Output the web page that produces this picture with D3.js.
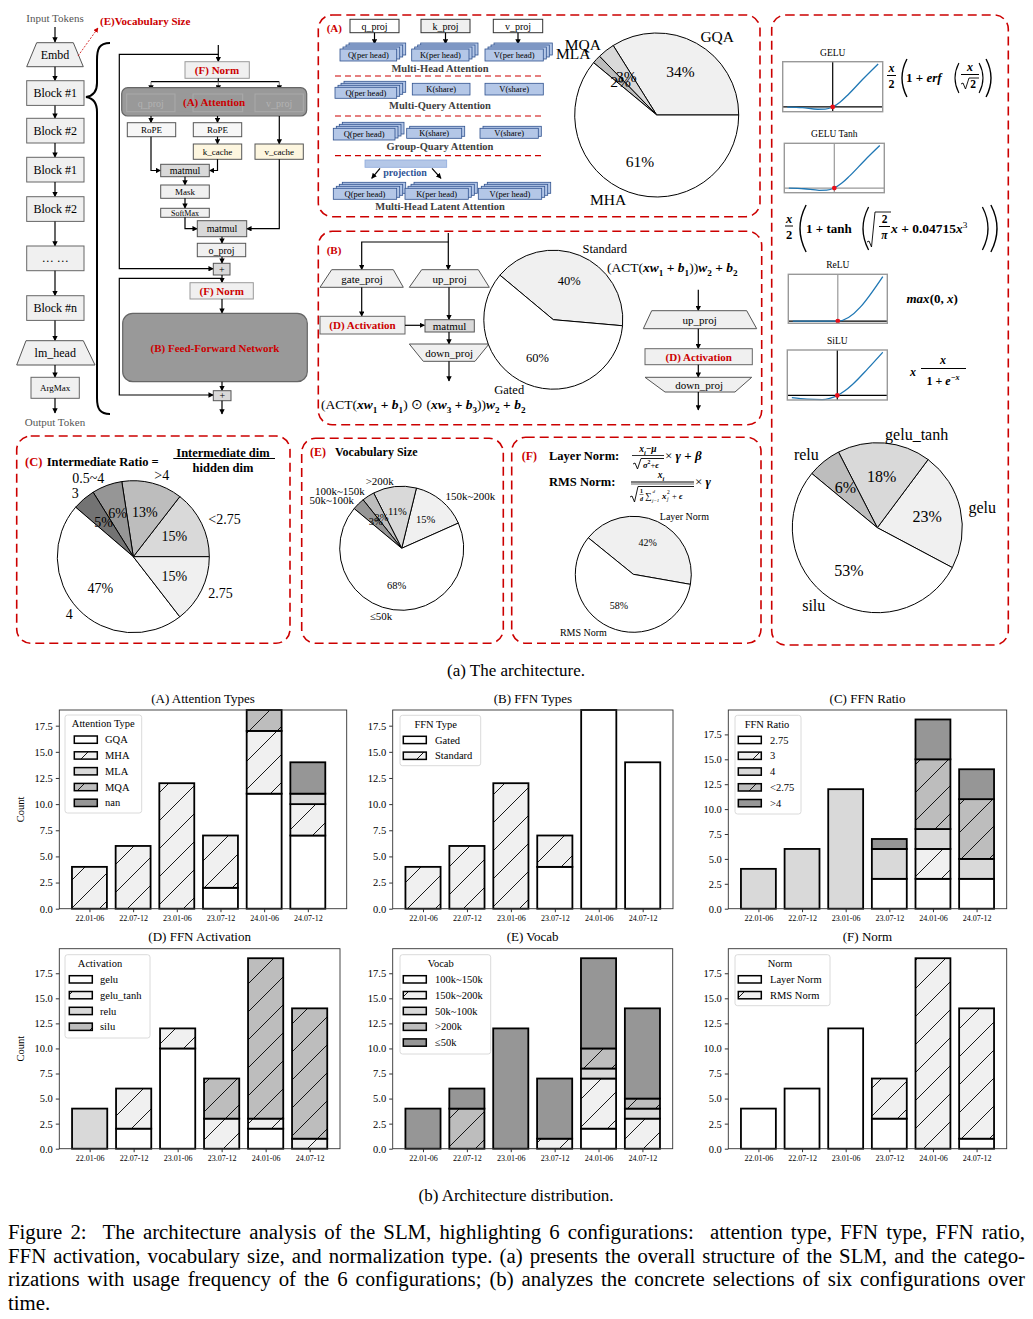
<!DOCTYPE html>
<html>
<head>
<meta charset="utf-8">
<script src="https://cdn.jsdelivr.net/npm/d3@7"></script>
<style>
  body { margin: 0; background: #fff; }
  svg { display: block; }
  text { font-family: "Liberation Serif", "Times New Roman", serif; white-space: pre; }
</style>
</head>
<body>
<svg id="fig" width="1033" height="1319"></svg>
<script>
// ---------- data ----------
const periods = ["22.01-06", "22.07-12", "23.01-06", "23.07-12", "24.01-06", "24.07-12"];
const yTicks = [0, 2.5, 5, 7.5, 10, 12.5, 15, 17.5];

const attnKeys = ["GQA", "MHA", "MLA", "MQA", "nan"];
const attnGQA = [0, 0, 0, 2, 11, 7];
const attnMHA = [4, 6, 12, 5, 6, 3];
const attnMLA = [0, 0, 0, 0, 0, 1];
const attnMQA = [0, 0, 0, 0, 2, 0];
const attnNan = [0, 0, 0, 0, 0, 3];

const ffnKeys = ["Gated", "Standard"];
const ffnGated = [0, 0, 0, 4, 19, 14];
const ffnStandard = [4, 6, 12, 3, 0, 0];

const ratioKeys = ["2.75", "3", "4", "<2.75", ">4"];
const ratio275 = [0, 0, 0, 3, 3, 3];
const ratio3 = [0, 0, 0, 0, 3, 0];
const ratio4 = [4, 6, 12, 3, 2, 2];
const ratioLt275 = [0, 0, 0, 0, 7, 6];
const ratioGt4 = [0, 0, 0, 1, 4, 3];

const actKeys = ["gelu", "gelu_tanh", "relu", "silu"];
const actGelu = [0, 2, 10, 0, 2, 0];
const actGeluTanh = [0, 4, 2, 3, 1, 1];
const actRelu = [4, 0, 0, 0, 0, 0];
const actSilu = [0, 0, 0, 4, 16, 13];

const vocabKeys = ["100k~150k", "150k~200k", "50k~100k", ">200k", "≤50k"];
const vocab100 = [0, 0, 0, 0, 2, 0];
const vocab150 = [0, 0, 0, 1, 5, 3];
const vocab50 = [0, 0, 0, 0, 1, 1];
const vocab200 = [0, 4, 0, 0, 2, 1];
const vocabLe50 = [4, 2, 12, 6, 9, 9];

const normKeys = ["Layer Norm", "RMS Norm"];
const normLayer = [4, 6, 12, 3, 0, 1];
const normRMS = [0, 0, 0, 4, 19, 13];

// pie charts
const pieAttnLabels = ["GQA", "MQA", "MLA", "MHA"];
const pieAttnValues = [20, 2, 1, 36];
const pieFfnLabels = ["Standard", "Gated"];
const pieFfnValues = [25, 37];
const pieRatioLabels = ["<2.75", ">4", "0.5~4", "3", "4", "2.75"];
const pieRatioValues = [9, 8, 4, 3, 29, 9];
const pieVocabLabels = ["150k~200k", ">200k", "100k~150k", "50k~100k", "≤50k"];
const pieVocabValues = [9, 7, 2, 2, 42];
const pieNormLabels = ["Layer Norm", "RMS Norm"];
const pieNormValues = [26, 36];
const pieActLabels = ["gelu", "gelu_tanh", "relu", "silu"];
const pieActValues = [14, 11, 4, 33];

// activation curves, points
const geluPts = [[-3, -0.01], [-2, -0.05], [-1, -0.16], [-0.5, -0.15], [0, 0], [0.5, 0.35], [1, 0.84], [2, 1.95], [3, 3.0]];
const geluTanhPts = [[-3, -0.01], [-2, -0.05], [-1, -0.16], [-0.5, -0.15], [0, 0], [0.5, 0.35], [1, 0.84], [2, 1.95], [3, 3.0]];
const reluPts = [[-3, 0], [0, 0], [3, 3]];
const siluPts = [[-3, -0.14], [-2, -0.24], [-1, -0.27], [-0.5, -0.19], [0, 0], [0.5, 0.31], [1, 0.73], [2, 1.76], [3, 2.86]];

// ---------- helpers ----------
const svg = d3.select("#fig");
const RED = "#cc0000";
const defs = svg.append("defs");
defs.append("marker").attr("id", "arr")
    .attr("viewBox", "0 0 10 10").attr("refX", 9).attr("refY", 5)
    .attr("markerWidth", 4.5).attr("markerHeight", 4.5).attr("orient", "auto")
    .append("path").attr("d", "M0,0L10,5L0,10z").attr("fill", "#000");
defs.append("marker").attr("id", "arrRed")
    .attr("viewBox", "0 0 10 10").attr("refX", 9).attr("refY", 5)
    .attr("markerWidth", 6).attr("markerHeight", 6).attr("orient", "auto")
    .append("path").attr("d", "M0,0L10,5L0,10z").attr("fill", RED);

function hatch(id, bg) {
    const s = 28;
    const p = defs.append("pattern").attr("id", id)
        .attr("patternUnits", "userSpaceOnUse").attr("width", s).attr("height", s);
    p.append("rect").attr("width", s).attr("height", s).attr("fill", bg);
    p.append("path")
        .attr("d", `M0,${s}L${s},0M-2,2L2,-2M${s - 2},${s + 2}L${s + 2},${s - 2}`)
        .attr("stroke", "#000").attr("stroke-width", 0.9);
}
hatch("h1", "#f0f0f0");
hatch("h3", "#bdbdbd");
const barFills = ["#ffffff", "url(#h1)", "#d9d9d9", "url(#h3)", "#969696"];

function rect(x1, y1, x2, y2, o = {}) {
    return svg.append("rect").attr("x", x1).attr("y", y1)
        .attr("width", x2 - x1).attr("height", y2 - y1)
        .attr("fill", o.fill || "#f0f0f0").attr("stroke", o.stroke || "#555")
        .attr("stroke-width", o.sw || 1).attr("rx", o.rx || 0);
}
function txt(x, y, s, o = {}) {
    return svg.append("text").attr("x", x).attr("y", y)
        .attr("text-anchor", o.anchor || "middle").attr("dominant-baseline", "central")
        .attr("font-size", o.fs || 11).attr("font-weight", o.bold ? "bold" : null)
        .attr("font-style", o.italic ? "italic" : null)
        .attr("font-family", o.sans ? "DejaVu Sans, sans-serif" : null)
        .attr("fill", o.fill || "#000").text(s);
}
function line(pts, o = {}) {
    return svg.append("path").attr("d", "M" + pts.map(p => p.join(",")).join("L"))
        .attr("fill", "none").attr("stroke", o.stroke || "#000").attr("stroke-width", o.sw || 1.2)
        .attr("stroke-dasharray", o.dash || null)
        .attr("marker-end", o.arrow === false ? null : (o.marker || "url(#arr)"));
}
function trap(xt1, xt2, yt, xb1, xb2, yb, label, o = {}) {
    svg.append("path").attr("d", `M${xt1},${yt}L${xt2},${yt}L${xb2},${yb}L${xb1},${yb}Z`)
        .attr("fill", "#f0f0f0").attr("stroke", "#555").attr("stroke-width", 1);
    txt((xt1 + xt2 + xb1 + xb2) / 4, (yt + yb) / 2, label, o);
}
function dashBox(x1, y1, x2, y2) {
    rect(x1, y1, x2, y2, { fill: "none", stroke: RED, sw: 1.6, rx: 14 }).attr("stroke-dasharray", "9,5");
}
function rich(x, y, parts, fs, anchor) {
    const t = svg.append("text").attr("x", x).attr("y", y).attr("font-size", fs)
        .attr("text-anchor", anchor || "start");
    let cur = 0;
    parts.forEach(([s, st]) => {
        const tok = (st || "").split(" ");
        const sp = t.append("tspan").text(s);
        let off = 0;
        if (tok.includes("sub")) off = fs * 0.28;
        if (tok.includes("sup")) off = -fs * 0.4;
        if (off !== cur) { sp.attr("dy", off - cur); cur = off; }
        if (tok.includes("sub") || tok.includes("sup")) sp.attr("font-size", fs * 0.68);
        if (tok.includes("b")) sp.attr("font-weight", "bold");
        if (tok.includes("i")) sp.attr("font-style", "italic");
    });
    return t;
}
function paren(x, y1, y2, left, sw) {
    const ym = (y1 + y2) / 2, d = Math.max(2.5, (y2 - y1) * 0.13);
    const p = left ? `M${x + d},${y1}Q${x - d},${ym} ${x + d},${y2}`
                   : `M${x - d},${y1}Q${x + d},${ym} ${x - d},${y2}`;
    svg.append("path").attr("d", p).attr("fill", "none").attr("stroke", "#000").attr("stroke-width", sw || 1.4);
}
function hline(x1, x2, y, sw) {
    svg.append("line").attr("x1", x1).attr("x2", x2).attr("y1", y).attr("y2", y)
        .attr("stroke", "#000").attr("stroke-width", sw || 1);
}
function radical(x1, yb, yTop, x2) {
    svg.append("path").attr("d", `M${x1},${yb - 5}L${x1 + 2},${yb - 6}L${x1 + 4.5},${yb}L${x1 + 8},${yTop}L${x2},${yTop}`)
        .attr("fill", "none").attr("stroke", "#000").attr("stroke-width", 0.9);
}

// ---------- left: model architecture ----------
txt(55, 18, "Input Tokens", { fs: 11, fill: "#555" });
line([[55, 27], [55, 42]]);
trap(36.7, 73.3, 42.7, 26.7, 83.3, 66.7, "Embd", { fs: 12 });
txt(100, 21, "(E)Vocabulary Size", { fs: 11, bold: true, fill: RED, anchor: "start" });
line([[78, 56], [98, 28]], { stroke: RED, sw: 0.8, dash: "2,1.5", marker: "url(#arrRed)" });

const blocks = [["Block #1", 80.7], ["Block #2", 118.3], ["Block #1", 157.3], ["Block #2", 196.7], ["… …", 246], ["Block #n", 295.7]];
line([[55, 66.7], [55, 80.7]]);
blocks.forEach(([s, y0], i) => {
    rect(26.7, y0, 84, y0 + 24.7, { stroke: "#666" });
    txt(55.3, y0 + 12.4, s, { fs: 12 });
    const next = i < blocks.length - 1 ? blocks[i + 1][1] : 340.7;
    line([[55, y0 + 24.7], [55, next]]);
});
trap(26, 83.3, 340.7, 16.7, 95, 365, "lm_head", { fs: 12 });
line([[55, 365], [55, 377.3]]);
rect(31, 377.3, 79.3, 398.3, { stroke: "#666" });
txt(55.2, 388, "ArgMax", { fs: 9 });
line([[55, 398.3], [55, 413]]);
txt(55, 422, "Output Token", { fs: 11, fill: "#555" });

svg.append("path")
    .attr("d", "M110,43C99,43 97,49 97,60L97,83C97,92 93,96 86,97C93,98 97,103 97,112L97,398C97,409 100,414 110,414")
    .attr("fill", "none").attr("stroke", "#000").attr("stroke-width", 2);

// decoder block detail
line([[218.3, 45], [218.3, 61.7]]);
line([[218.3, 54.3], [119.3, 54.3], [119.3, 268.7], [213.3, 268.7]]);
rect(185, 61.7, 249.3, 78.3, { stroke: "#999" });
txt(217, 70.3, "(F) Norm", { fs: 11, bold: true, fill: RED });
line([[218.3, 78.3], [218.3, 81.7]], { arrow: false });
line([[151, 81.7], [279.3, 81.7]], { arrow: false });
[151, 218.3, 279.3].forEach(x => line([[x, 81.7], [x, 90]], { stroke: "#888" }));
rect(121.7, 87.7, 306.7, 116, { fill: "#999", stroke: "#666", rx: 6, sw: 1.2 });
[[126.7, 175, "q_proj"], [193, 242.7, ""], [255, 303.3, "v_proj"]].forEach(([a, b, s]) => {
    rect(a, 94, b, 111.7, { fill: "none", stroke: "#aaa" });
    if (s) txt((a + b) / 2, 103, s, { fs: 10, fill: "#b3b3b3" });
});
txt(214, 102, "(A) Attention", { fs: 11, bold: true, fill: RED });

line([[151, 116], [151, 122.7]]);
line([[217.5, 116], [217.5, 122.7]]);
line([[279.3, 116], [279.3, 144]]);
rect(127.3, 122.7, 175.7, 136.7, { fill: "#f7f7f7" });
txt(151.5, 130, "RoPE", { fs: 9 });
rect(193.3, 122.7, 241.7, 136.7, { fill: "#f7f7f7" });
txt(217.5, 130, "RoPE", { fs: 9 });
line([[217.5, 136.7], [217.5, 144]]);
rect(193.3, 144, 241.7, 159.3, { fill: "#fdf6df" });
txt(217.5, 151.8, "k_cache", { fs: 9 });
rect(255, 144, 303.3, 159.3, { fill: "#fdf6df" });
txt(279.2, 151.8, "v_cache", { fs: 9 });
line([[151, 136.7], [151, 170.5], [160.7, 170.5]]);
line([[217.5, 159.3], [217.5, 170.5], [209.3, 170.5]]);
rect(160.7, 164.3, 209.3, 176.7, { fill: "#d9d9d9" });
txt(185, 170.7, "matmul", { fs: 10 });
line([[185, 176.7], [185, 185]]);
rect(160.7, 185, 209.3, 198.3);
txt(185, 191.8, "Mask", { fs: 9 });
line([[185, 198.3], [185, 208.3]]);
rect(160.7, 208.3, 209.3, 217.3);
txt(185, 213, "SoftMax", { fs: 8 });
line([[185, 217.3], [185, 228.7], [197.3, 228.7]]);
line([[279.3, 159.3], [279.3, 228.7], [246.7, 228.7]]);
rect(197.3, 220.7, 246.7, 236.7, { fill: "#d9d9d9" });
txt(222, 228.8, "matmul", { fs: 10 });
line([[222, 236.7], [222, 243.3]]);
rect(197.3, 243.3, 245.7, 256.7);
txt(221.5, 250, "o_proj", { fs: 10 });
line([[222, 256.7], [222, 263.3]]);
rect(213.3, 263.3, 230, 275, { fill: "#d9d9d9" });
txt(221.7, 269.3, "+", { fs: 10 });
line([[222, 275], [222, 282.7]]);
line([[222, 278.3], [119.3, 278.3], [119.3, 395], [213.3, 395]]);
rect(190, 282.7, 253.3, 299, { stroke: "#999" });
txt(221.7, 291, "(F) Norm", { fs: 11, bold: true, fill: RED });
line([[222, 299], [222, 313.3]]);
rect(122.7, 313.3, 307.3, 381.7, { fill: "#999", stroke: "#666", rx: 10, sw: 1.2 });
txt(215, 348, "(B) Feed-Forward Network", { fs: 11, bold: true, fill: RED });
line([[222, 381.7], [222, 390.7]]);
rect(213.3, 390.7, 231, 400.7, { fill: "#d9d9d9" });
txt(222.2, 395.8, "+", { fs: 10 });
line([[222, 400.7], [222, 414]]);

// ---------- (A) attention types ----------
dashBox(318.3, 15, 760, 216.7);
txt(326.7, 28.3, "(A)", { fs: 11, bold: true, fill: RED, anchor: "start" });
function stack(x1, x2, yTop, yBot, n, label) {
    for (let k = n - 1; k >= 0; k--) {
        rect(x1 + k * 3, yTop - k * 2, x2 + k * 3, yBot - k * 2, { fill: "#b4c7e7", stroke: "#2f528f", sw: 0.8 });
    }
    txt((x1 + x2) / 2, (yTop + yBot) / 2, label, { fs: 8.5 });
}
const ATT_TITLE = { fs: 10.5, bold: true, fill: "#404040" };
[[350, 399, "q_proj", "#fff"], [421, 470, "k_proj", "#f0f0f0"], [493.3, 542.7, "v_proj", "#fff"]].forEach(([a, b, s, f]) => {
    rect(a, 19.3, b, 32.7, { fill: f, stroke: "#333" });
    txt((a + b) / 2, 26, s, { fs: 10 });
    line([[(a + b) / 2, 32.7], [(a + b) / 2, 44]]);
});
stack(340, 396.7, 49, 61, 4, "Q(per head)");
stack(411.7, 469, 49, 61, 4, "K(per head)");
stack(485, 543.3, 49, 61, 4, "V(per head)");
txt(440, 68.3, "Multi-Head Attention", ATT_TITLE);
line([[335, 76], [545, 76]], { stroke: RED, dash: "6,4", arrow: false });
stack(335, 396.7, 87.3, 98.3, 4, "Q(per head)");
stack(412.3, 470, 83.3, 95, 1, "K(share)");
stack(485, 543.3, 83.3, 95, 1, "V(share)");
txt(440, 105, "Multi-Query Attention", ATT_TITLE);
line([[335, 116], [545, 116]], { stroke: RED, dash: "6,4", arrow: false });
stack(333.3, 395, 128.3, 140, 4, "Q(per head)");
stack(406.7, 461.7, 128.3, 138.3, 2, "K(share)");
stack(480, 538.3, 128.3, 138.3, 2, "V(share)");
txt(440, 146, "Group-Quary Attention", ATT_TITLE);
line([[335, 155.7], [545, 155.7]], { stroke: RED, dash: "6,4", arrow: false });
rect(365, 160, 446.7, 167.3, { fill: "#b4c7e7", stroke: "#8faadc", sw: 0.8 });
txt(405, 172.3, "projection", { fs: 10, bold: true, fill: "#2f5597" });
line([[380, 168.3], [371.7, 178.3]]);
line([[432, 168.3], [441, 178.3]]);
stack(333.3, 396.7, 188.3, 199.3, 4, "Q(per head)");
stack(405, 468.3, 188.3, 199.3, 4, "K(per head)");
stack(478.3, 541.7, 188.3, 199.3, 4, "V(per head)");
txt(440, 206.7, "Multi-Head Latent Attention", ATT_TITLE);

// ---------- (B) FFN types ----------
dashBox(318.3, 231.3, 761.7, 424.7);
txt(326.7, 249.7, "(B)", { fs: 11, bold: true, fill: RED, anchor: "start" });
line([[448.3, 233], [448.3, 269.7]]);
line([[448.3, 242], [361.7, 242], [361.7, 269.7]]);
trap(331.7, 393.3, 269.7, 320, 403.3, 287.3, "gate_proj", { fs: 11 });
trap(421.7, 478.3, 269.7, 409.3, 489.3, 287.3, "up_proj", { fs: 11 });
line([[361.7, 287.3], [361.7, 316.3]]);
rect(320, 316.3, 405, 334, { stroke: "#666" });
txt(362.5, 325.3, "(D) Activation", { fs: 11, bold: true, fill: RED });
line([[405, 325.3], [424.5, 325.3]]);
line([[449, 287.3], [449, 319.7]]);
rect(425, 319.7, 474.3, 332, { fill: "#d9d9d9" });
txt(449.6, 326, "matmul", { fs: 11 });
line([[449, 332], [449, 344]]);
trap(409.3, 489, 344, 423.3, 475, 361.3, "down_proj", { fs: 11 });
line([[449, 361.3], [449, 381]]);
const gatedParts = [["(ACT(", ""], ["xw", "b i"], ["1", "b sub"], [" + ", "b"], ["b", "b i"], ["1", "b sub"], [") ⊙ (", ""],
    ["xw", "b i"], ["3", "b sub"], [" + ", "b"], ["b", "b i"], ["3", "b sub"], ["))", ""], ["w", "b i"], ["2", "b sub"],
    [" + ", "b"], ["b", "b i"], ["2", "b sub"]];
rich(321, 409, gatedParts, 13.5);
const stdParts = [["(ACT(", ""], ["xw", "b i"], ["1", "b sub"], [" + ", "b"], ["b", "b i"], ["1", "b sub"], ["))", ""],
    ["w", "b i"], ["2", "b sub"], [" + ", "b"], ["b", "b i"], ["2", "b sub"]];
rich(607, 272, stdParts, 13.5);
line([[698.3, 289.7], [698.3, 310.7]]);
trap(651.7, 746.7, 310.7, 643.3, 756.7, 328.7, "up_proj", { fs: 11 });
line([[698.3, 328.7], [698.3, 348.7]]);
rect(645, 348.7, 752.3, 364.7, { stroke: "#666" });
txt(698.7, 356.7, "(D) Activation", { fs: 11, bold: true, fill: RED });
line([[698.3, 364.7], [698.3, 377.3]]);
trap(645, 751.7, 377.3, 665, 735, 392, "down_proj", { fs: 11 });
line([[698.3, 392], [698.3, 410]]);

// ---------- activation functions panel ----------
dashBox(771.7, 15, 1008.3, 645);
function miniPlot(c) {
    const x = d3.scaleLinear().domain([-3.3, 3.3]).range([c.x0, c.x1]);
    const y = d3.scaleLinear().domain(c.yd).range([c.y1, c.y0]);
    svg.append("line").attr("x1", x(0)).attr("x2", x(0)).attr("y1", c.y0).attr("y2", c.y1)
        .attr("stroke", c.vc).attr("stroke-width", 1.2);
    svg.append("line").attr("x1", c.x0).attr("x2", c.x1).attr("y1", y(0)).attr("y2", y(0))
        .attr("stroke", c.hc).attr("stroke-width", 1.2);
    svg.append("path").attr("d", d3.line().x(d => x(d[0])).y(d => y(d[1])).curve(d3.curveMonotoneX)(c.pts))
        .attr("fill", "none").attr("stroke", "#1f77b4").attr("stroke-width", 1.3);
    svg.append("circle").attr("cx", x(0)).attr("cy", y(0)).attr("r", 2.4).attr("fill", "#e8101a");
    svg.append("rect").attr("x", c.x0).attr("y", c.y0).attr("width", c.x1 - c.x0).attr("height", c.y1 - c.y0)
        .attr("fill", "none").attr("stroke", "#999").attr("stroke-width", 1.4);
    txt((c.x0 + c.x1) / 2, c.y0 - 9, c.name, { fs: 9.5, sans: true });
}
miniPlot({ name: "GELU", pts: geluPts, x0: 782.7, x1: 882.7, y0: 61.7, y1: 111.7, yd: [-0.33, 3.16], vc: "#000", hc: "#000" });
miniPlot({ name: "GELU Tanh", pts: geluTanhPts, x0: 784.3, x1: 884.3, y0: 143.3, y1: 192.7, yd: [-0.33, 3.16], vc: "#999", hc: "#999" });
miniPlot({ name: "ReLU", pts: reluPts, x0: 788.3, x1: 887.3, y0: 274.3, y1: 323.3, yd: [-0.15, 3.15], vc: "#999", hc: "#000" });
miniPlot({ name: "SiLU", pts: siluPts, x0: 787.3, x1: 887.3, y0: 350, y1: 400, yd: [-0.3, 3.01], vc: "#000", hc: "#000" });

// GELU formula
rich(891.5, 71.5, [["x", "b i"]], 12, "middle");
hline(887, 896, 75.5, 1);
rich(891.5, 88, [["2", "b"]], 12, "middle");
paren(902, 59, 97, true, 1.4);
rich(906, 82, [["1 + ", "b"], ["erf", "b i"]], 13);
paren(955, 63, 93, true, 1.1);
rich(970, 71, [["x", "b i"]], 12, "middle");
hline(961, 979, 74.5, 1);
radical(961, 89, 78, 979);
rich(973, 88, [["2", "b"]], 11.5, "middle");
paren(983, 63, 93, false, 1.1);
paren(991, 59, 97, false, 1.4);

// GELU Tanh formula
rich(789, 222.5, [["x", "b i"]], 12.5, "middle");
hline(785, 793, 226, 1);
rich(789, 239, [["2", "b"]], 12.5, "middle");
paren(800, 205, 252, true, 1.4);
rich(806, 233, [["1 + tanh", "b"]], 13);
paren(863, 207, 250, true, 1.3);
radical(867, 247, 212, 891);
rich(884.5, 223, [["2", "b"]], 11.5, "middle");
hline(879, 890, 226.5, 1);
rich(884.5, 239, [["π", "b i"]], 11.5, "middle");
rich(891, 233, [["x", "b i"], [" + 0.04715", "b"], ["x", "b i"], ["3", "sup"]], 13.5);
paren(988, 207, 250, false, 1.3);
paren(997, 205, 252, false, 1.4);

// ReLU formula
rich(906.5, 302.5, [["max", "b i"], ["(0, ", "b"], ["x", "b i"], [")", "b"]], 13);

// SiLU formula
rich(910, 376, [["x", "b i"]], 12);
rich(943, 364, [["x", "b i"]], 12, "middle");
hline(921, 966, 368.5, 1);
rich(943, 384.5, [["1 + ", "b"], ["e", "b i"], ["−x", "b i sup"]], 12, "middle");

// ---------- (C), (E), (F) boxes ----------
dashBox(16.7, 436, 290, 643.3);
txt(25, 461.5, "(C)", { fs: 12.5, bold: true, fill: RED, anchor: "start" });
txt(46.7, 461.5, "Intermediate Ratio =", { fs: 12.5, bold: true, anchor: "start" });
txt(223, 453.3, "Intermediate dim", { fs: 12.5, bold: true });
hline(173.3, 275, 458.5, 1);
txt(223, 467.5, "hidden dim", { fs: 12.5, bold: true });

dashBox(301.7, 438.3, 503.3, 643.3);
txt(310, 452, "(E)", { fs: 12, bold: true, fill: RED, anchor: "start" });
txt(335, 452, "Vocabulary Size", { fs: 12, bold: true, anchor: "start" });

dashBox(511.7, 437.3, 761, 643.3);
rich(521.7, 460, [["(F)", "b"]], 12).attr("fill", RED);
rich(549, 460, [["Layer Norm:", "b"]], 12.5);
rich(648, 452, [["x", "b i"], ["i", "b i sub"], ["−", "b"], ["μ", "b i"]], 9.5, "middle");
hline(632, 664, 455.5, 0.8);
radical(633, 469, 458.5, 664);
rich(651, 467.5, [["σ", "b i"], ["2", "b sup"], ["+", ""], ["ϵ", "b i"]], 8.5, "middle");
rich(665, 460, [["× ", ""], ["γ", "b i"], [" + ", "b"], ["β", "b i"]], 13);
rich(549, 486, [["RMS Norm:", "b"]], 12.5);
rich(661, 478, [["x", "b i"], ["i", "b i sub"]], 9.5, "middle");
hline(631, 694, 482, 1);
hline(631, 694, 484, 0.6);
radical(630, 502, 486.5, 694);
rich(641.5, 493, [["1", "b"]], 6, "middle");
hline(639.5, 643.5, 494.5, 0.5);
rich(641.5, 500.5, [["d", "b i"]], 6, "middle");
rich(645, 499, [["∑", ""]], 9);
rich(652.5, 493, [["d", "i"]], 5, "start");
rich(652, 501.5, [["j=1", "i"]], 5, "start");
rich(662, 498.5, [["x", "b i"]], 9);
rich(667, 501, [["j", "i"]], 5.5);
rich(667, 494, [["2", ""]], 5.5);
rich(672, 498.5, [["+ ", ""], ["ϵ", "b i"]], 8.5);
rich(695, 486, [["× ", ""], ["γ", "b i"]], 13);

// ---------- pies ----------
function drawPie(c) {
    const g = svg.append("g").attr("transform", `translate(${c.cx},${c.cy})`);
    const a0 = Math.PI / 2 - c.start * Math.PI / 180;
    const arcs = d3.pie().sort(null).startAngle(a0).endAngle(a0 - 2 * Math.PI)(c.values);
    const arc = d3.arc().innerRadius(0).outerRadius(c.r);
    const total = d3.sum(c.values);
    g.selectAll("path").data(arcs).join("path")
        .attr("d", arc).attr("fill", (d, i) => c.colors[i])
        .attr("stroke", "#000").attr("stroke-width", 1).attr("stroke-linejoin", "round");
    arcs.forEach((d, i) => {
        const m = (d.startAngle + d.endAngle) / 2;
        const lx = Math.sin(m) * c.r * 1.1, ly = -Math.cos(m) * c.r * 1.1;
        g.append("text").attr("x", lx).attr("y", ly)
            .attr("text-anchor", lx > 0 ? "start" : "end").attr("dominant-baseline", "central")
            .attr("font-size", c.fs).text(c.labels[i]);
        const px = Math.sin(m) * c.r * 0.6, py = -Math.cos(m) * c.r * 0.6;
        g.append("text").attr("x", px).attr("y", py)
            .attr("text-anchor", "middle").attr("dominant-baseline", "central")
            .attr("font-size", c.pfs || c.fs).text(d3.format(".0f")(d.value / total * 100) + "%");
    });
}
drawPie({ cx: 656.7, cy: 115, r: 82, start: 0, labels: pieAttnLabels, values: pieAttnValues,
    colors: ["#f0f0f0", "#d9d9d9", "#bdbdbd", "#ffffff"], fs: 15.5 });
drawPie({ cx: 553.3, cy: 319.7, r: 69.5, start: -5, labels: pieFfnLabels, values: pieFfnValues,
    colors: ["#f0f0f0", "#ffffff"], fs: 12.5 });
drawPie({ cx: 133.3, cy: 556.7, r: 76, start: 0, labels: pieRatioLabels, values: pieRatioValues,
    colors: ["#d9d9d9", "#bdbdbd", "#969696", "#737373", "#ffffff", "#f0f0f0"], fs: 14 });
drawPie({ cx: 401.7, cy: 548.3, r: 62, start: 24, labels: pieVocabLabels, values: pieVocabValues,
    colors: ["#f0f0f0", "#d9d9d9", "#bdbdbd", "#969696", "#ffffff"], fs: 11, pfs: 10.5 });
drawPie({ cx: 633.3, cy: 574.3, r: 58, start: -10, labels: pieNormLabels, values: pieNormValues,
    colors: ["#f0f0f0", "#ffffff"], fs: 10, pfs: 10 });
drawPie({ cx: 877.3, cy: 527.7, r: 85, start: -28, labels: pieActLabels, values: pieActValues,
    colors: ["#f0f0f0", "#d9d9d9", "#bdbdbd", "#ffffff"], fs: 16 });

txt(516, 670, "(a) The architecture.", { fs: 17 });

// ---------- (b) bar charts ----------
const row1 = { y0: 710, y1: 908.7 }, row2 = { y0: 948.7, y1: 1148.7 };
const panels = [
    { title: "(A) Attention Types", keys: attnKeys, series: [attnGQA, attnMHA, attnMLA, attnMQA, attnNan],
      x0: 59.3, x1: 346.7, xd: [-0.69, 5.89], row: row1, yd: [0, 19], count: true,
      leg: { t: "Attention Type", x: 65, y: 715, w: 76.7, h: 98, tc: 103.3, px: 74.3, lx: 105 } },
    { title: "(B) FFN Types", keys: ffnKeys, series: [ffnGated, ffnStandard],
      x0: 392.7, x1: 673, xd: [-0.69, 5.69], row: row1, yd: [0, 19],
      leg: { t: "FFN Type", x: 400, y: 715.3, w: 80.7, h: 50.4, tc: 435.7, px: 403.3, lx: 435 } },
    { title: "(C) FFN Ratio", keys: ratioKeys, series: [ratio275, ratio3, ratio4, ratioLt275, ratioGt4],
      x0: 728.3, x1: 1006.7, xd: [-0.69, 5.69], row: row1, yd: [0, 19.95],
      leg: { t: "FFN Ratio", x: 735, y: 715.3, w: 66, h: 98.7, tc: 767, px: 738.3, lx: 770 } },
    { title: "(D) FFN Activation", keys: actKeys, series: [actGelu, actGeluTanh, actRelu, actSilu],
      x0: 59.3, x1: 340, xd: [-0.69, 5.69], row: row2, yd: [0, 19.95], count: true,
      leg: { t: "Activation", x: 65, y: 954.7, w: 85, h: 83.3, tc: 100, px: 69.3, lx: 100 } },
    { title: "(E) Vocab", keys: vocabKeys, series: [vocab100, vocab150, vocab50, vocab200, vocabLe50],
      x0: 392.7, x1: 672.7, xd: [-0.69, 5.69], row: row2, yd: [0, 19.95],
      leg: { t: "Vocab", x: 400, y: 954.7, w: 90.7, h: 99.3, tc: 440.7, px: 403.3, lx: 435 } },
    { title: "(F) Norm", keys: normKeys, series: [normLayer, normRMS],
      x0: 728.3, x1: 1006.7, xd: [-0.69, 5.69], row: row2, yd: [0, 19.95],
      leg: { t: "Norm", x: 735, y: 954.7, w: 95, h: 51, tc: 780, px: 738.3, lx: 770 } }
];

panels.forEach(p => {
    const g = svg.append("g");
    const x = d3.scaleLinear().domain(p.xd).range([p.x0, p.x1]);
    const y = d3.scaleLinear().domain(p.yd).range([p.row.y1, p.row.y0]);
    const rows = periods.map((per, i) => {
        const r = { period: per, i: i };
        p.keys.forEach((k, j) => { r[k] = p.series[j][i]; });
        return r;
    });
    const layers = d3.stack().keys(p.keys)(rows);
    layers.forEach((layer, j) => {
        g.append("g").selectAll("rect").data(layer.filter(d => d[1] > d[0])).join("rect")
            .attr("x", d => x(d.data.i - 0.4)).attr("width", x(0.4) - x(-0.4))
            .attr("y", d => y(d[1])).attr("height", d => y(d[0]) - y(d[1]))
            .attr("fill", barFills[j]).attr("stroke", "#000").attr("stroke-width", 1.8);
    });
    g.append("rect").attr("x", p.x0).attr("y", p.row.y0)
        .attr("width", p.x1 - p.x0).attr("height", p.row.y1 - p.row.y0)
        .attr("fill", "none").attr("stroke", "#333").attr("stroke-width", 0.9);

    const ya = g.append("g").attr("transform", `translate(${p.x0},0)`)
        .call(d3.axisLeft(y).tickValues(yTicks).tickFormat(d3.format(".1f")).tickSize(3.5).tickPadding(3));
    ya.select(".domain").remove();
    ya.attr("font-family", "Liberation Serif, serif").attr("font-size", 10.5);
    ya.selectAll("line").attr("stroke", "#333");

    const xa = g.append("g").attr("transform", `translate(0,${p.row.y1})`)
        .call(d3.axisBottom(x).tickValues(d3.range(periods.length)).tickFormat(i => periods[i]).tickSize(3.5).tickPadding(3));
    xa.select(".domain").remove();
    xa.attr("font-family", "Liberation Serif, serif").attr("font-size", 8);
    xa.selectAll("line").attr("stroke", "#333");

    g.append("text").attr("x", (p.x0 + p.x1) / 2).attr("y", p.row.y0 - 12)
        .attr("text-anchor", "middle").attr("dominant-baseline", "central")
        .attr("font-size", 13).text(p.title);
    if (p.count) {
        g.append("text").attr("transform", `translate(20.7,${(p.row.y0 + p.row.y1) / 2}) rotate(-90)`)
            .attr("text-anchor", "middle").attr("dominant-baseline", "central")
            .attr("font-size", 10.5).text("Count");
    }

    const L = p.leg;
    g.append("rect").attr("x", L.x).attr("y", L.y).attr("width", L.w).attr("height", L.h).attr("rx", 2.5)
        .attr("fill", "#fff").attr("fill-opacity", 0.85).attr("stroke", "#d0d0d0").attr("stroke-width", 0.8);
    g.append("text").attr("x", L.tc).attr("y", L.y + 8.8).attr("text-anchor", "middle")
        .attr("dominant-baseline", "central").attr("font-size", 10.5).text(L.t);
    p.keys.forEach((k, j) => {
        const cy = L.y + 24.7 + j * 15.8;
        g.append("rect").attr("x", L.px).attr("y", cy - 3.7).attr("width", 23).attr("height", 7.3)
            .attr("fill", barFills[j]).attr("stroke", "#000").attr("stroke-width", 1.5);
        g.append("text").attr("x", L.lx).attr("y", cy).attr("dominant-baseline", "central")
            .attr("font-size", 10.5).text(k);
    });
});

txt(516, 1195, "(b) Architecture distribution.", { fs: 17 });

// ---------- caption (justified with word spacing) ----------
const captionLines = [
    "Figure 2:  The architecture analysis of the SLM, highlighting 6 configurations:  attention type, FFN type, FFN ratio,",
    "FFN activation, vocabulary size, and normalization type. (a) presents the overall structure of the SLM, and the catego-",
    "rizations with usage frequency of the 6 configurations; (b) analyzes the concrete selections of six configurations over",
    "time."
];
captionLines.forEach((s, i) => {
    const t = svg.append("text").attr("x", 8).attr("y", 1239 + i * 23.7).attr("font-size", 20.8).text(s);
    if (i < captionLines.length - 1) {
        const w = t.node().getComputedTextLength();
        const n = (s.match(/ /g) || []).length;
        t.attr("word-spacing", (1017 - w) / n);
    }
});
</script>
</body>
</html>
